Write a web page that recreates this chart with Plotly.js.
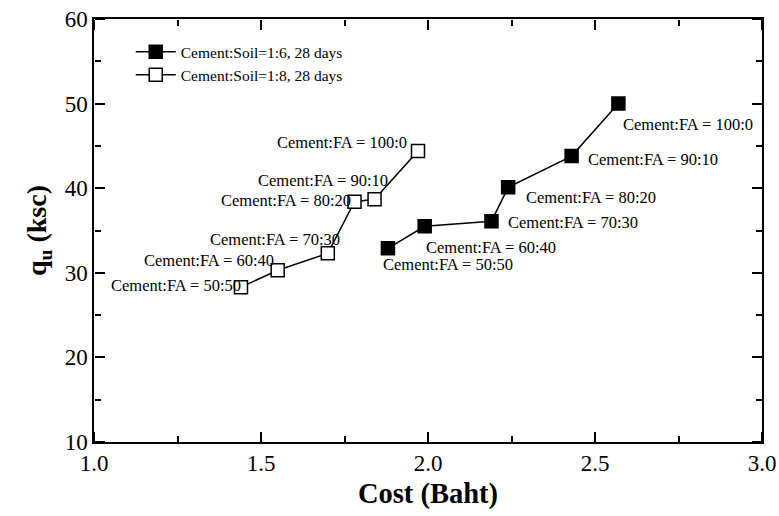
<!DOCTYPE html>
<html>
<head>
<meta charset="utf-8">
<script src="https://cdn.plot.ly/plotly-3.0.1.min.js"></script>
<style>html,body{margin:0;padding:0;background:#fff;}#chart{width:779px;height:516px;}</style>
</head>
<body>
<div id="chart"></div>
<script>
// Data
const costSoil16 = [1.88, 1.99, 2.19, 2.24, 2.43, 2.57];
const quSoil16   = [32.9, 35.5, 36.1, 40.1, 43.8, 50.0];
const costSoil18 = [1.44, 1.55, 1.70, 1.78, 1.84, 1.97];
const quSoil18   = [28.3, 30.3, 32.3, 38.4, 38.7, 44.4];
const ratioLabels = ["Cement:FA = 50:50", "Cement:FA = 60:40", "Cement:FA = 70:30",
                     "Cement:FA = 80:20", "Cement:FA = 90:10", "Cement:FA = 100:0"];
const seriesNames = ["Cement:Soil=1:6, 28 days", "Cement:Soil=1:8, 28 days"];
const xRange = [1.0, 3.0];
const yRange = [10, 60];

// label placement (style only)
const shift16 = [[-7,-16],[-1,-21],[15,-1],[16,-10],[14,-3],[3,-21]];
const shift18 = [[2,2],[-2,10],[14,14],[-2,1],[15,19],[-9,8]];

const font = "Liberation Serif";
const annotations = [];
ratioLabels.forEach((t,i)=>{
  annotations.push({x:costSoil16[i], y:quSoil16[i], xref:'x', yref:'y', text:t, showarrow:false,
    xanchor:'left', yanchor:'middle', xshift:shift16[i][0], yshift:shift16[i][1],
    font:{family:font,size:16.5,color:'#000'}});
  annotations.push({x:costSoil18[i], y:quSoil18[i], xref:'x', yref:'y', text:t, showarrow:false,
    xanchor:'right', yanchor:'middle', xshift:shift18[i][0], yshift:shift18[i][1],
    font:{family:font,size:16.5,color:'#000'}});
});

const traces = [
  {x:costSoil16, y:quSoil16, name:seriesNames[0], mode:'lines+markers', type:'scatter',
   line:{color:'#000',width:1.5},
   marker:{symbol:'square',size:13,color:'#000',line:{color:'#000',width:1.5}}},
  {x:costSoil18, y:quSoil18, name:seriesNames[1], mode:'lines+markers', type:'scatter',
   line:{color:'#000',width:1.5},
   marker:{symbol:'square',size:13,color:'#fff',line:{color:'#000',width:1.5}}},
  // empty helper traces so the tick-only overlay axes are created
  {x:[], y:[], xaxis:'x2', yaxis:'y2', type:'scatter', mode:'markers', showlegend:false, hoverinfo:'skip'},
  {x:[], y:[], xaxis:'x3', yaxis:'y3', type:'scatter', mode:'markers', showlegend:false, hoverinfo:'skip'}
];

// overlay axes whose "outside" ticks point into the plot area
const tickOnlyX = {range:xRange, dtick:0.5, tick0:1.0, showgrid:false, zeroline:false, showline:false,
  showticklabels:false, ticks:'outside', ticklen:10, tickwidth:1.5, tickcolor:'black',
  minor:{dtick:0.25, ticks:'outside', ticklen:6, tickwidth:1.5, tickcolor:'black', showgrid:false},
  overlaying:'x', anchor:'free'};
const tickOnlyY = {range:yRange, dtick:10, tick0:10, showgrid:false, zeroline:false, showline:false,
  showticklabels:false, ticks:'outside', ticklen:10, tickwidth:1.5, tickcolor:'black',
  minor:{dtick:5, ticks:'outside', ticklen:6, tickwidth:1.5, tickcolor:'black', showgrid:false},
  overlaying:'y', anchor:'free'};

const layout = {
  width:779, height:516,
  margin:{l:94, r:17, t:19, b:74},
  paper_bgcolor:'#fff', plot_bgcolor:'rgba(0,0,0,0)',
  showlegend:true,
  legend:{x:0.055, y:0.962, xanchor:'left', yanchor:'top', bgcolor:'rgba(0,0,0,0)',
    font:{family:font,size:15.5,color:'#000'}, tracegroupgap:0, itemwidth:40},
  xaxis:{range:xRange, dtick:0.5, tick0:1.0, tickformat:'.1f',
    showgrid:false, zeroline:false, showline:true, linecolor:'black', linewidth:1.5, mirror:true,
    ticks:'', tickfont:{family:font,size:23,color:'#000'},
    title:{text:'<b>Cost (Baht)</b>', font:{family:font,size:28.5,color:'#000'}, standoff:8}},
  yaxis:{range:yRange, dtick:10, tick0:10,
    showgrid:false, zeroline:false, showline:true, linecolor:'black', linewidth:1.5, mirror:true,
    ticks:'', tickfont:{family:font,size:23,color:'#000'},
    title:{text:'<b>q<sub>u</sub> (ksc)</b>', font:{family:font,size:28,color:'#000'}, standoff:10}},
  xaxis2:Object.assign({}, tickOnlyX, {side:'top', position:0}),
  xaxis3:Object.assign({}, tickOnlyX, {side:'bottom', position:1}),
  yaxis2:Object.assign({}, tickOnlyY, {side:'right', position:0}),
  yaxis3:Object.assign({}, tickOnlyY, {side:'left', position:1}),
  annotations:annotations
};

Plotly.newPlot('chart', traces, layout, {displayModeBar:false});
</script>
</body>
</html>
